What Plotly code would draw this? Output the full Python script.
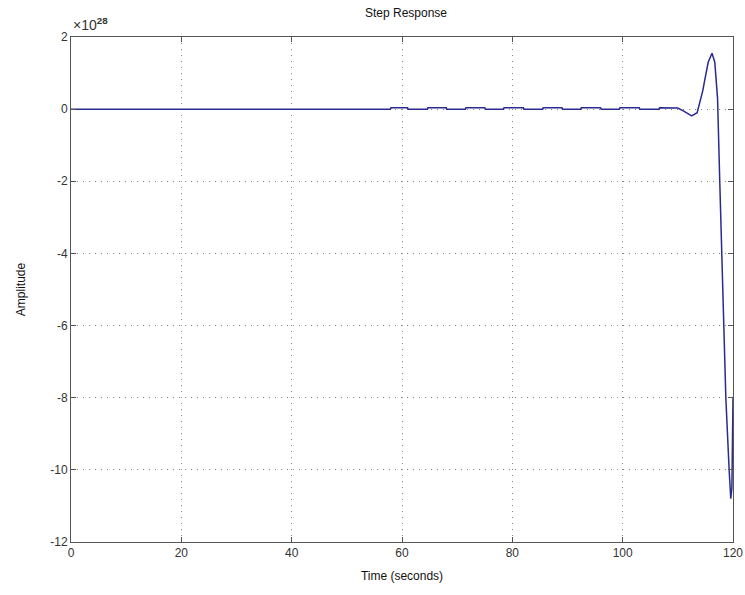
import plotly.graph_objects as go

# Step response, amplitude in units of 1e28
time_s = [0, 20, 40, 57.9, 58.0, 61.0, 61.1, 64.6, 64.7, 68.0, 68.1, 71.5, 71.6, 75.0, 75.1,
          78.4, 78.5, 82.0, 82.1, 85.5, 85.6, 89.0, 89.1, 92.4, 92.5, 96.0, 96.1,
          99.4, 99.5, 103.0, 103.1, 106.6, 106.7, 110.0, 111.0, 112.5, 113.5, 114.5,
          115.5, 116.2, 116.7, 117.2, 117.6, 118.0, 118.3, 118.7, 119.3, 119.6, 119.8, 120.0]
amplitude = [0, 0, 0, 0, 0.04, 0.04, 0, 0, 0.04, 0.04, 0, 0, 0.04, 0.04, 0,
             0, 0.04, 0.04, 0, 0, 0.04, 0.04, 0, 0, 0.04, 0.04, 0,
             0, 0.04, 0.04, 0, 0, 0.04, 0.03, -0.05, -0.19, -0.1, 0.5,
             1.3, 1.55, 1.3, 0.3, -2.0, -4.0, -6.0, -8.0, -10.0, -10.8, -10.5, -8.0]

x_ticks = [0, 20, 40, 60, 80, 100, 120]
y_ticks = [2, 0, -2, -4, -6, -8, -10, -12]

font_family = "Liberation Sans, Arial, sans-serif"
text_color = "#333333"

fig = go.Figure()
fig.add_trace(go.Scatter(x=time_s, y=amplitude, mode="lines",
                         line=dict(color="#2a2a90", width=1.5), showlegend=False))

axis_common = dict(
    showline=True, linecolor="#555555", linewidth=1, mirror="ticks",
    ticks="inside", ticklen=5, tickcolor="#555555",
    showgrid=True, gridcolor="#8a8a8a", griddash="1px,5px", gridwidth=1,
    zeroline=False, automargin=False,
    tickfont=dict(family=font_family, size=12, color=text_color),
)

fig.update_layout(
    width=745, height=595,
    margin=dict(l=71, r=12, t=37, b=53),
    paper_bgcolor="white", plot_bgcolor="white",
    title=dict(text="Step Response", x=0.545, xanchor="center", y=0.985, yanchor="top",
               font=dict(family=font_family, size=12, color="#111111")),
    xaxis=dict(range=[0, 120], tickvals=x_ticks, ticktext=[str(v) for v in x_ticks],
               title=dict(text="Time (seconds)", font=dict(family=font_family, size=12, color="#111111"),
                          standoff=12),
               **axis_common),
    yaxis=dict(range=[-12, 2], tickvals=y_ticks, ticktext=[str(v) for v in y_ticks],
               title=dict(text="Amplitude", font=dict(family=font_family, size=12, color="#111111"),
                          standoff=22),
               **axis_common),
    font=dict(family=font_family),
)

fig.add_annotation(xref="paper", yref="paper", x=0.0, y=1.0, xanchor="left", yanchor="bottom",
                   yshift=2,
                   text="×10<sup><b>28</b></sup>", showarrow=False,
                   font=dict(family=font_family, size=14, color=text_color))

fig.write_html("out.html")
